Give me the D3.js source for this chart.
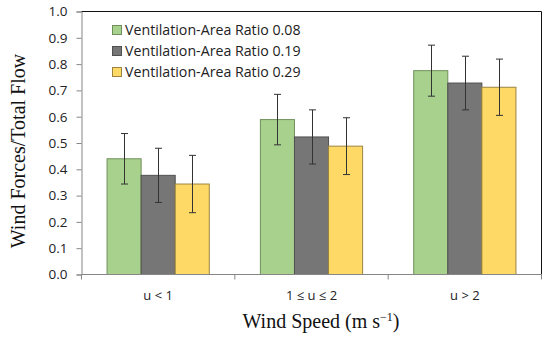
<!DOCTYPE html>
<html><head><meta charset="utf-8">
<script src="https://cdn.jsdelivr.net/npm/d3@7"></script>
<style>body{margin:0;background:#fff}svg{display:block}</style>
</head><body><svg id="c" width="550" height="339"></svg>
<script>
const categories = ["u < 1", "1 \u2264 u \u2264 2", "u > 2"];
const seriesNames = ["Ventilation-Area Ratio 0.08", "Ventilation-Area Ratio 0.19", "Ventilation-Area Ratio 0.29"];
const ratio008 = [0.440, 0.589, 0.775];
const ratio019 = [0.377, 0.523, 0.728];
const ratio029 = [0.344, 0.488, 0.712];
const err008 = [0.096, 0.096, 0.097];
const err019 = [0.103, 0.103, 0.102];
const err029 = [0.109, 0.108, 0.107];
const yTicks = [0,0.1,0.2,0.3,0.4,0.5,0.6,0.7,0.8,0.9,1.0];
const colors = ["#a9d18e", "#767676", "#ffd966"];
const strokes = ["#6f8f5a", "#505050", "#9a8440"];

const values = [ratio008, ratio019, ratio029];
const errs = [err008, err019, err029];

const svg = d3.select("#c");
const m = {l:81.5, r:541.5, t:11.5, b:274.5};
const x0 = d3.scaleBand().domain(categories).range([m.l, m.r]).paddingInner(0).paddingOuter(0);
const groupW = x0.bandwidth()*2/3;
const x1b = d3.scaleBand().domain(d3.range(3)).range([(x0.bandwidth()-groupW)/2, (x0.bandwidth()+groupW)/2]);
const y = d3.scaleLinear().domain([0,1]).range([m.b, m.t]);

// bars
for (let s=0; s<3; s++) {
  const g = svg.append("g");
  g.selectAll("rect").data(categories).join("rect")
    .attr("x", (d)=>x0(d)+x1b(s))
    .attr("y", (d,i)=>y(values[s][i]))
    .attr("width", x1b.bandwidth())
    .attr("height", (d,i)=>y(0)-y(values[s][i]))
    .attr("fill", colors[s]).attr("stroke", strokes[s]).attr("stroke-width", 1);
}
// error bars
for (let s=0; s<3; s++) {
  categories.forEach((c,i)=>{
    const cx = Math.round(x0(c)+x1b(s)+x1b.bandwidth()/2)+0.5;
    const hi = y(values[s][i]+errs[s][i]), lo = y(values[s][i]-errs[s][i]);
    svg.append("line").attr("x1",cx).attr("x2",cx).attr("y1",hi).attr("y2",lo).attr("stroke","#333").attr("stroke-width",1);
    [hi,lo].forEach(v=>svg.append("line").attr("x1",cx-3.5).attr("x2",cx+3.5).attr("y1",v).attr("y2",v).attr("stroke","#333").attr("stroke-width",1));
  });
}

// frame top/right
svg.append("line").attr("x1",m.l).attr("x2",m.r).attr("y1",m.t).attr("y2",m.t).attr("stroke","#111");
svg.append("line").attr("x1",m.r).attr("x2",m.r).attr("y1",m.t).attr("y2",m.b).attr("stroke","#111");

// y axis
const yAxis = d3.axisLeft(y).tickValues(yTicks).tickFormat(d3.format(".1f")).tickSize(5).tickPadding(9);
const ya = svg.append("g").attr("transform",`translate(${m.l},0)`).call(yAxis);
ya.select(".domain").attr("stroke","#868686");
ya.selectAll(".tick line").attr("stroke","#868686");
ya.selectAll("text").attr("font-family","'Open Sans', sans-serif").attr("font-size","13.5px").attr("fill","#222");

// x axis
const xa = svg.append("g").attr("transform",`translate(0,${m.b})`)
  .call(d3.axisBottom(x0).tickSize(0).tickPadding(16));
xa.select(".domain").attr("stroke","#868686").attr("d",`M${m.l},0H${m.r}`);
xa.selectAll("text").attr("font-family","'Open Sans', sans-serif").attr("font-size","13px").attr("fill","#222");
[m.l, ...categories.map(c=>x0(c)+x0.bandwidth())].forEach(v=>{
  svg.append("line").attr("x1",v).attr("x2",v).attr("y1",m.b).attr("y2",m.b+5).attr("stroke","#868686");
});

// legend
seriesNames.forEach((n,i)=>{
  const ly = 30 + i*21;
  svg.append("rect").attr("x",112.5).attr("y",ly-4.5).attr("width",9).attr("height",9)
    .attr("fill",colors[i]).attr("stroke",strokes[i]);
  svg.append("text").attr("x",125).attr("y",ly).attr("dy","0.35em")
    .attr("font-family","'Open Sans', sans-serif").attr("font-size","14.2px").attr("fill","#222").text(n);
});

// axis titles
svg.append("text").attr("transform","translate(25,151) rotate(-90)").attr("text-anchor","middle")
  .attr("font-family","'Liberation Serif', serif").attr("font-size","20px").attr("fill","#111").text("Wind Forces/Total Flow");
const xt = svg.append("text").attr("x",321).attr("y",328).attr("text-anchor","middle")
  .attr("font-family","'Liberation Serif', serif").attr("font-size","20px").attr("fill","#111");
xt.append("tspan").text("Wind Speed  (m s");
xt.append("tspan").attr("dy","-7").attr("font-size","12px").text("\u22121");
xt.append("tspan").attr("dy","7").text(")");
</script></body></html>
